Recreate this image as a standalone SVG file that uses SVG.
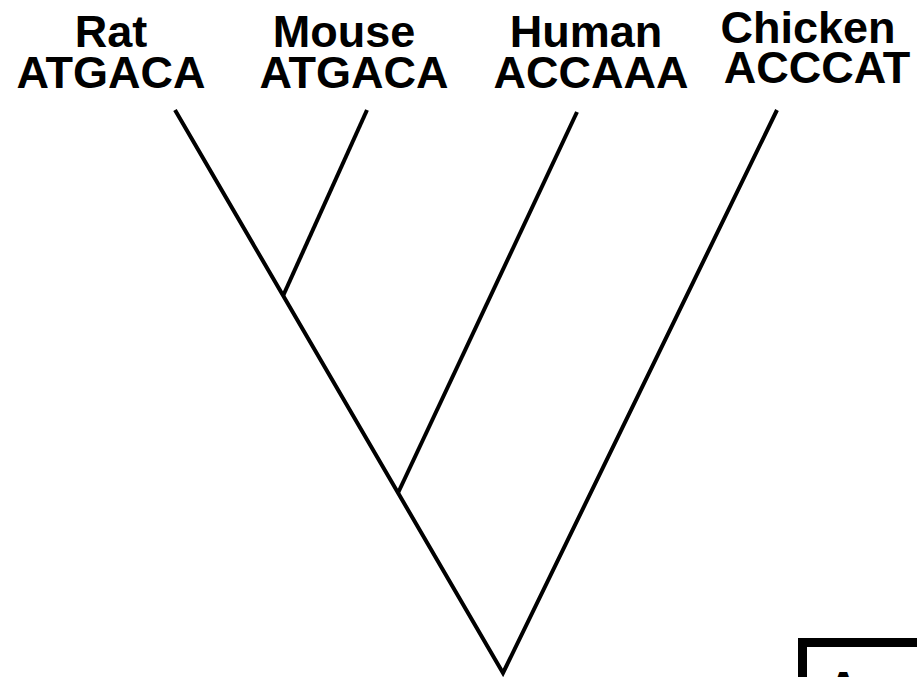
<svg xmlns="http://www.w3.org/2000/svg" width="917" height="677" viewBox="0 0 917 677">
  <style>
    .label { font-family: "Liberation Sans", Arial, Helvetica, sans-serif; font-weight: bold; font-size: 45px; fill: #000; text-anchor: middle; }
    .branch { fill: none; stroke: #000; stroke-width: 4; stroke-linecap: butt; stroke-linejoin: miter; }
    .box { fill: #fff; stroke: #000; stroke-width: 9; }
    .boxtext { font-family: "Liberation Sans", Arial, Helvetica, sans-serif; font-weight: bold; font-size: 45px; fill: #000; }
  </style>
  <rect width="917" height="677" fill="#fff"/>

  <!-- tip labels: species name over its sequence -->
  <g id="rat">
    <text class="label" x="111" y="47">Rat</text>
    <text class="label" x="111" y="88">ATGACA</text>
  </g>
  <g id="mouse">
    <text class="label" x="344" y="47">Mouse</text>
    <text class="label" x="354" y="88">ATGACA</text>
  </g>
  <g id="human">
    <text class="label" x="586" y="47">Human</text>
    <text class="label" x="591" y="88">ACCAAA</text>
  </g>
  <g id="chicken">
    <text class="label" x="808" y="43">Chicken</text>
    <text class="label" x="817" y="83">ACCCAT</text>
  </g>

  <!-- tree branches -->
  <g id="branches">
    <polyline class="branch" points="175,110 503,673 777,110"/>
    <line class="branch" x1="367" y1="110" x2="283" y2="296"/>
    <line class="branch" x1="577" y1="112" x2="398" y2="493"/>
  </g>

  <!-- answer box -->
  <g id="answer">
    <rect class="box" x="802.5" y="642.5" width="140" height="80"/>
    <text class="boxtext" x="827" y="703">Ans</text>
  </g>
</svg>
